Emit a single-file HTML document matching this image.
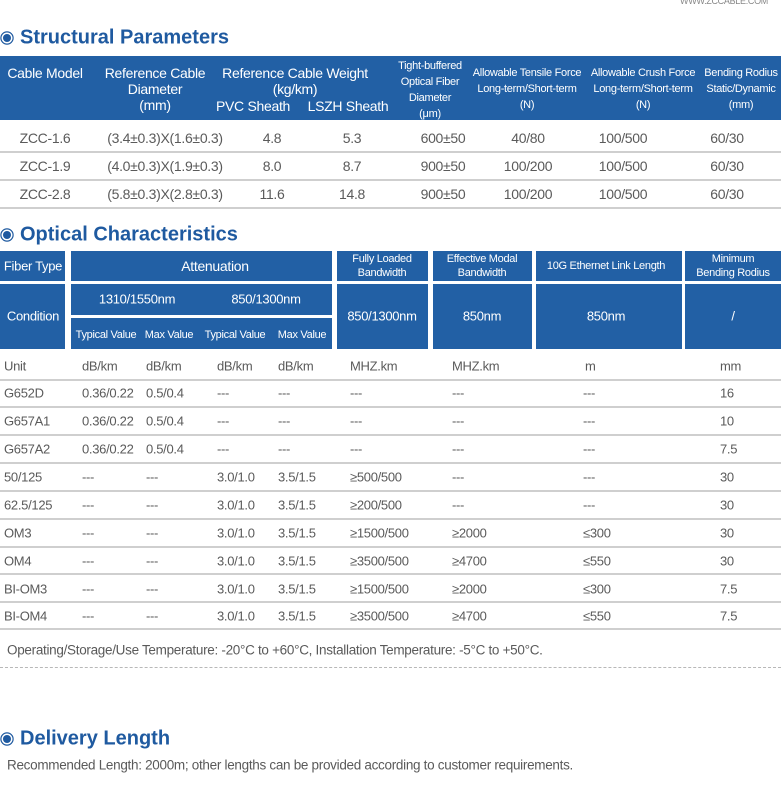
<!DOCTYPE html>
<html><head><meta charset="utf-8"><style>
body{margin:0;width:781px;height:791px;background:#fff;position:relative;overflow:hidden;font-family:"Liberation Sans",sans-serif;}
.t{position:absolute;white-space:nowrap;transform:translate(-50%,-50%);font-size:13px;color:#5a5a5a;letter-spacing:-0.3px}
.l{position:absolute;white-space:nowrap;transform:translateY(-50%);font-size:13px;color:#5a5a5a;letter-spacing:-0.3px}
.w{color:#fff}
.box{position:absolute;background:#2260a5}
.ln{position:absolute;left:0;width:781px;height:2px;background:#cfcfcf}
.dash{position:absolute;left:0;width:781px;border-top:1px dashed #b8b8b8}
.h{position:absolute;font-weight:bold;font-size:20px;color:#1f5aa0;transform:translateY(-50%);white-space:nowrap}
.bul{position:absolute;width:8px;height:8px;border-radius:50%;background:#1f5aa0;box-shadow:0 0 0 1.5px #fff,0 0 0 2.7px #1f5aa0;}
</style></head><body>
<div class="l" style="left:680px;top:1px;font-size:9px;color:#888">WWW.ZCCABLE.COM</div>

<div class="bul" style="left:3px;top:34px"></div>
<div class="h" style="left:20px;top:38px">Structural Parameters</div>
<div class="box" style="left:0;top:56px;width:781px;height:64px"></div>

<div class="bul" style="left:3px;top:231px"></div>
<div class="h" style="left:20px;top:235px">Optical Characteristics</div>

<div class="l" style="left:7px;top:650px;font-size:13.5px">Operating/Storage/Use Temperature: -20°C to +60°C, Installation Temperature: -5°C to +50°C.</div>
<div class="dash" style="top:667px"></div>

<div class="bul" style="left:3px;top:735px"></div>
<div class="h" style="left:20px;top:739px">Delivery Length</div>
<div class="l" style="left:7px;top:765px;font-size:13.5px">Recommended Length: 2000m; other lengths can be provided according to customer requirements.</div>

<script>
const B=document.body;
function mk(cls,x,y,txt,name,extra){const d=document.createElement('div');d.className=cls;d.style.left=x+'px';d.style.top=y+'px';d.textContent=txt;if(extra)d.style.cssText+=extra;


B.appendChild(d);return d;}
const h1=[[45,73,'Cable Model',14],[155,73,'Reference Cable',14],[155,89,'Diameter',14],[155,105,'(mm)',14],
[295,73,'Reference Cable Weight',14],[295,89,'(kg/km)',14],[253,106,'PVC Sheath',14],[348,106,'LSZH Sheath',14],
[430,66,'Tight-buffered',11],[430,82,'Optical Fiber',11],[430,98,'Diameter',11],[430,114,'(μm)',11],
[527,73,'Allowable Tensile Force',11],[527,89,'Long-term/Short-term',11],[527,105,'(N)',11],
[643,73,'Allowable Crush Force',11],[643,89,'Long-term/Short-term',11],[643,105,'(N)',11],
[741,73,'Bending Rodius',11],[741,89,'Static/Dynamic',11],[741,105,'(mm)',11]];
h1.forEach(a=>mk('t w',a[0],a[1],a[2],'header-cell','font-size:'+a[3]+'px'));
const models=['ZCC-1.6','ZCC-1.9','ZCC-2.8'];
const diam=['(3.4±0.3)X(1.6±0.3)','(4.0±0.3)X(1.9±0.3)','(5.8±0.3)X(2.8±0.3)'];
const pvc=['4.8','8.0','11.6'];
const lszh=['5.3','8.7','14.8'];
const fiberDia=['600±50','900±50','900±50'];
const tensile=['40/80','100/200','100/200'];
const crush=['100/500','100/500','100/500'];
const bend=['60/30','60/30','60/30'];
const c1x=[45,165,272,352,443,528,623,727];
models.forEach((m,i)=>{const y=138+i*28;
[m,diam[i],pvc[i],lszh[i],fiberDia[i],tensile[i],crush[i],bend[i]].forEach((v,j)=>mk('t',c1x[j],y,v,'structural-cell','font-size:14px'));
mk('ln',0,151+i*28,'','row-divider');});
const bx=[[0,251,65,30],[71,251,261,30],[337,251,91,30],[433,251,99,30],[536,251,146,30],[685,251,96,30],
[0,284,65,65],[71,284,261,31],[71,318,261,31],[337,284,91,65],[433,284,99,65],[536,284,146,65],[685,284,96,65]];
bx.forEach(b=>mk('box',b[0],b[1],'','header-box','width:'+b[2]+'px;height:'+b[3]+'px'));
const h2=[[33,266,'Fiber Type',13],[215,266,'Attenuation',14],[382,259,'Fully Loaded',11],[382,273,'Bandwidth',11],
[482,259,'Effective Modal',11],[482,273,'Bandwidth',11],[606,266,'10G Ethernet Link Length',11],[733,259,'Minimum',11],[733,273,'Bending Rodius',11],
[33,316,'Condition',13],[137,299,'1310/1550nm',13],[266,299,'850/1300nm',13],
[106,335,'Typical Value',11],[169,335,'Max Value',11],[235,335,'Typical Value',11],[302,335,'Max Value',11],
[382,316,'850/1300nm',13],[482,316,'850nm',13],[606,316,'850nm',13],[733,316,'/',13]];
h2.forEach(a=>mk('t w',a[0],a[1],a[2],'header-cell','font-size:'+a[3]+'px'));
const fiberTypes=['Unit','G652D','G657A1','G657A2','50/125','62.5/125','OM3','OM4','BI-OM3','BI-OM4'];
const typ1310=['dB/km','0.36/0.22','0.36/0.22','0.36/0.22','---','---','---','---','---','---'];
const max1310=['dB/km','0.5/0.4','0.5/0.4','0.5/0.4','---','---','---','---','---','---'];
const typ850=['dB/km','---','---','---','3.0/1.0','3.0/1.0','3.0/1.0','3.0/1.0','3.0/1.0','3.0/1.0'];
const max850=['dB/km','---','---','---','3.5/1.5','3.5/1.5','3.5/1.5','3.5/1.5','3.5/1.5','3.5/1.5'];
const fullBw=['MHZ.km','---','---','---','≥500/500','≥200/500','≥1500/500','≥3500/500','≥1500/500','≥3500/500'];
const modalBw=['MHZ.km','---','---','---','---','---','≥2000','≥4700','≥2000','≥4700'];
const linkLen=['m','---','---','---','---','---','≤300','≤550','≤300','≤550'];
const bendR=['mm','16','10','7.5','30','30','30','30','7.5','7.5'];
const c2x=[4,82,146,217,278,350,452,583,720];
const rowY=[366,393,421,449,477,505,533,561,589,616];
const lineY=[380,407,435,463,491,519,547,574,602,629];
fiberTypes.forEach((f,i)=>{
[f,typ1310[i],max1310[i],typ850[i],max850[i],fullBw[i],modalBw[i],linkLen[i],bendR[i]].forEach((v,j)=>{
let x=c2x[j]; if(i===0&&j===7)x=585;
mk('l',x,rowY[i],v,'optical-cell');});
mk('ln',0,lineY[i]-1,'','row-divider');});
</script>
</body></html>
